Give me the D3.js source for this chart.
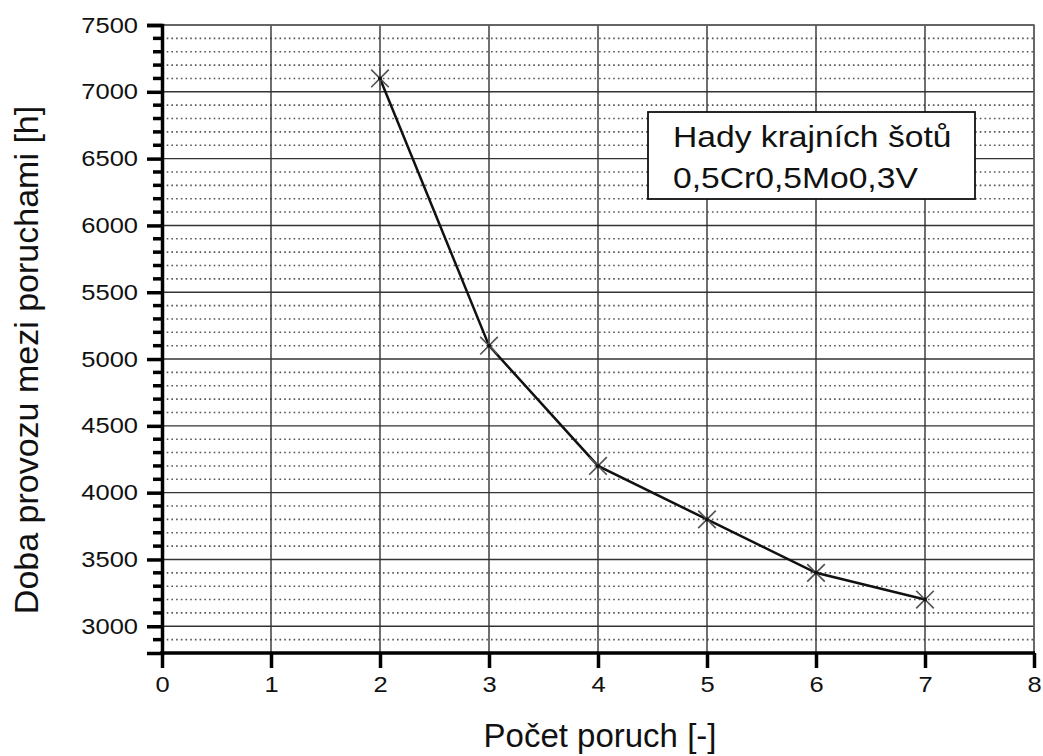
<!DOCTYPE html>
<html>
<head>
<meta charset="utf-8">
<script src="https://cdn.jsdelivr.net/npm/d3@7"></script>
<style>
  body { margin: 0; background: #fff; }
  svg { display: block; font-family: Arial, "Liberation Sans", Helvetica, sans-serif; }
  .tick-label { font-size: 22px; fill: #111; }
  .axis-title { font-size: 33px; fill: #111; }
  .y-title { font-size: 34px; }
  .legend-text { font-size: 29px; fill: #111; }
</style>
</head>
<body>
<div id="chart"></div>
<script>
// data
const failures = [2, 3, 4, 5, 6, 7];
const hours = [7100, 5100, 4200, 3800, 3400, 3200];
const xTicks = [0, 1, 2, 3, 4, 5, 6, 7, 8];
const yTicks = [3000, 3500, 4000, 4500, 5000, 5500, 6000, 6500, 7000, 7500];
const legendLines = ['Hady krajních šotů', '0,5Cr0,5Mo0,3V'];

const W = 1043, H = 756;
const margin = { top: 25, right: 9, bottom: 103, left: 162 };
const stretch = 1.16; // the original text is a bit wider than Arial

const svg = d3.select('#chart').append('svg')
  .attr('width', W)
  .attr('height', H);

const x = d3.scaleLinear().domain([0, 8]).range([margin.left, W - margin.right]);
const y = d3.scaleLinear().domain([2800, 7500]).range([H - margin.bottom, margin.top]);

const minorY = d3.range(2900, 7500, 100).filter(v => v % 500 !== 0);

// dotted minor grid
svg.append('g')
  .selectAll('line')
  .data(minorY)
  .enter().append('line')
    .attr('x1', x(0))
    .attr('x2', x(8))
    .attr('y1', d => y(d))
    .attr('y2', d => y(d))
    .attr('stroke', '#555')
    .attr('stroke-width', 1.6)
    .attr('stroke-dasharray', '1.6,3.1');

// solid major grid
svg.append('g')
  .selectAll('line')
  .data(yTicks)
  .enter().append('line')
    .attr('x1', x(0))
    .attr('x2', x(8))
    .attr('y1', d => y(d))
    .attr('y2', d => y(d))
    .attr('stroke', '#333')
    .attr('stroke-width', 1.4);

svg.append('g')
  .selectAll('line')
  .data(xTicks.slice(1))
  .enter().append('line')
    .attr('x1', d => x(d))
    .attr('x2', d => x(d))
    .attr('y1', y(7500))
    .attr('y2', y(2800))
    .attr('stroke', '#333')
    .attr('stroke-width', 1.4);

// top / right frame
svg.append('path')
  .attr('d', `M${x(0)},${y(7500)}H${x(8)}V${y(2800)}`)
  .attr('fill', 'none')
  .attr('stroke', '#666')
  .attr('stroke-width', 1.5);

// y axis
const yAxis = svg.append('g')
  .attr('transform', `translate(${x(0)},0)`);
yAxis.call(d3.axisLeft(y).tickValues(yTicks).tickSize(15).tickPadding(8).tickFormat(d3.format('d')));
yAxis.select('.domain').attr('stroke', '#000').attr('stroke-width', 3.5);
yAxis.selectAll('.tick line').attr('stroke', '#000').attr('stroke-width', 3.5);
yAxis.selectAll('.tick text')
  .attr('class', 'tick-label')
  .attr('font-size', null)
  .attr('font-family', null)
  .attr('x', -24 / stretch)
  .attr('transform', `scale(${stretch},1)`);
yAxis.selectAll('.minor')
  .data(minorY)
  .enter().append('line')
    .attr('class', 'minor')
    .attr('x1', -9)
    .attr('x2', 0)
    .attr('y1', d => y(d))
    .attr('y2', d => y(d))
    .attr('stroke', '#000')
    .attr('stroke-width', 3.5);

// x axis
const xAxis = svg.append('g')
  .attr('transform', `translate(0,${y(2800)})`);
xAxis.call(d3.axisBottom(x).tickValues(xTicks).tickSize(15).tickPadding(8).tickFormat(d3.format('d')));
xAxis.select('.domain').attr('stroke', '#000').attr('stroke-width', 3.5).attr('d', `M${x(0) - 2},0H${x(8) + 1}`);
xAxis.selectAll('.tick line').attr('stroke', '#000').attr('stroke-width', 3.5);
xAxis.selectAll('.tick text')
  .attr('class', 'tick-label')
  .attr('font-size', null)
  .attr('font-family', null)
  .attr('transform', `scale(${stretch},1)`);

// axis titles
svg.append('text')
  .attr('class', 'axis-title')
  .attr('text-anchor', 'middle')
  .attr('x', 600)
  .attr('y', 747)
  .text('Počet poruch [-]');

svg.append('text')
  .attr('class', 'axis-title y-title')
  .attr('text-anchor', 'middle')
  .attr('transform', 'translate(38,360) rotate(-90)')
  .text('Doba provozu mezi poruchami [h]');

// the line
const pts = failures.map((f, i) => [f, hours[i]]);
svg.append('path')
  .datum(pts)
  .attr('fill', 'none')
  .attr('stroke', '#111')
  .attr('stroke-width', 2.5)
  .attr('d', d3.line().x(d => x(d[0])).y(d => y(d[1])));

// asterisk markers
const r = 11;
const marker = svg.append('g')
  .selectAll('g')
  .data(pts)
  .enter().append('g')
    .attr('transform', d => `translate(${x(d[0])},${y(d[1])})`);
marker.append('path')
  .attr('d', `M${-r * 0.8},${-r * 0.8}L${r * 0.8},${r * 0.8}M${-r * 0.8},${r * 0.8}L${r * 0.8},${-r * 0.8}M0,${-r}V${r}`)
  .attr('stroke', '#555')
  .attr('stroke-width', 1.7)
  .attr('fill', 'none');
marker.append('circle')
  .attr('r', 2)
  .attr('fill', '#111');

// legend box
const legend = svg.append('g');
legend.append('rect')
  .attr('x', 648)
  .attr('y', 112)
  .attr('width', 327)
  .attr('height', 87)
  .attr('fill', '#fff')
  .attr('stroke', '#111')
  .attr('stroke-width', 1.8);
legend.selectAll('text')
  .data(legendLines)
  .enter().append('text')
    .attr('class', 'legend-text')
    .attr('x', 673 / stretch)
    .attr('y', (d, i) => 147 + i * 41)
    .attr('transform', `scale(${stretch},1)`)
    .text(d => d);
</script>
</body>
</html>
